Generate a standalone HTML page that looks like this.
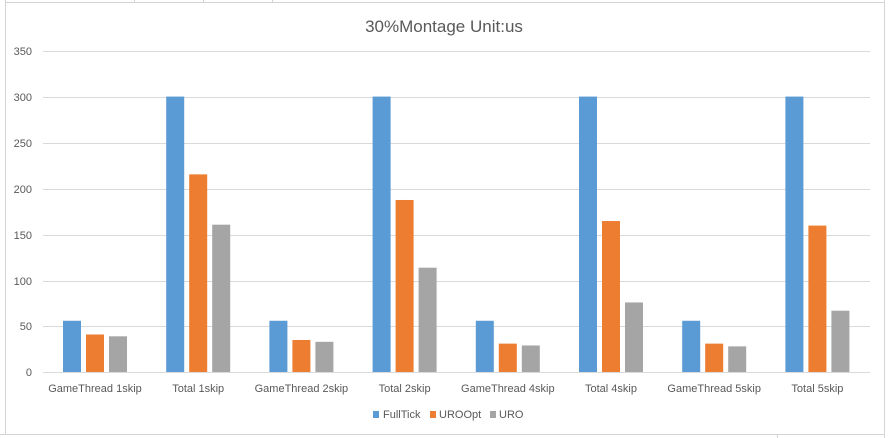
<!DOCTYPE html>
<html><head><style>body{margin:0;background:#fff}svg{display:block}</style></head><body>
<svg width="889" height="438" xmlns="http://www.w3.org/2000/svg" font-family="Liberation Sans, sans-serif">
<rect width="889" height="438" fill="#fff"/>
<g stroke="#d4d4d4" stroke-width="1">
<line x1="5.5" y1="0" x2="5.5" y2="435"/>
<line x1="884.5" y1="0" x2="884.5" y2="438"/>
<line x1="5" y1="2.5" x2="885" y2="2.5"/>
<line x1="0" y1="434.5" x2="885" y2="434.5"/>
<line x1="134.5" y1="0" x2="134.5" y2="2"/><line x1="203.5" y1="0" x2="203.5" y2="2"/><line x1="272.5" y1="0" x2="272.5" y2="2"/>
<line x1="777.5" y1="434" x2="777.5" y2="438"/>
</g>
<g stroke="#d9d9d9" stroke-width="1">
<line x1="43" y1="51.5" x2="870" y2="51.5"/>
<line x1="43" y1="97.5" x2="870" y2="97.5"/>
<line x1="43" y1="143.5" x2="870" y2="143.5"/>
<line x1="43" y1="189.5" x2="870" y2="189.5"/>
<line x1="43" y1="235.5" x2="870" y2="235.5"/>
<line x1="43" y1="281.5" x2="870" y2="281.5"/>
<line x1="43" y1="326.5" x2="870" y2="326.5"/>
<line x1="43" y1="372.5" x2="870" y2="372.5"/>
</g>
<g font-size="11" fill="#595959" text-anchor="end">
<text x="32" y="55">350</text><text x="32" y="101">300</text><text x="32" y="147">250</text><text x="32" y="193">200</text>
<text x="32" y="239">150</text><text x="32" y="285">100</text><text x="32" y="330">50</text><text x="32" y="376">0</text>
</g>
<text x="444" y="32" font-size="17" fill="#595959" text-anchor="middle">30%Montage Unit:us</text>
<g id="bars"></g>
<g font-size="11" fill="#595959" text-anchor="middle" id="labels"></g>
<g font-size="11" fill="#595959">
<rect x="373" y="411" width="6" height="7" fill="#5b9bd5"/><text x="383" y="418">FullTick</text>
<rect x="430" y="411" width="6" height="7" fill="#ed7d31"/><text x="439" y="418">UROOpt</text>
<rect x="490" y="411" width="6" height="7" fill="#a5a5a5"/><text x="499" y="418">URO</text>
</g>
<script>
var d=[["GameThread 1skip",56,41,39],["Total 1skip",301,216,161],["GameThread 2skip",56,35,33],["Total 2skip",301,188,114],["GameThread 4skip",56,31,29],["Total 4skip",301,165,76],["GameThread 5skip",56,31,28],["Total 5skip",301,160,67]];
var c=["#5b9bd5","#ed7d31","#a5a5a5"],b=document.getElementById("bars"),l=document.getElementById("labels"),ns="http://www.w3.org/2000/svg";
d.forEach(function(r,i){var cx=95+i*103.2;
for(var k=0;k<3;k++){var h=r[k+1]*0.915,e=document.createElementNS(ns,"rect");
e.setAttribute("x",cx-32+k*23);e.setAttribute("width",18);e.setAttribute("y",372-h);e.setAttribute("height",h);e.setAttribute("fill",c[k]);b.appendChild(e);}
var t=document.createElementNS(ns,"text");t.setAttribute("x",cx);t.setAttribute("y",392);t.textContent=r[0];l.appendChild(t);});
</script>
</svg>
</body></html>
